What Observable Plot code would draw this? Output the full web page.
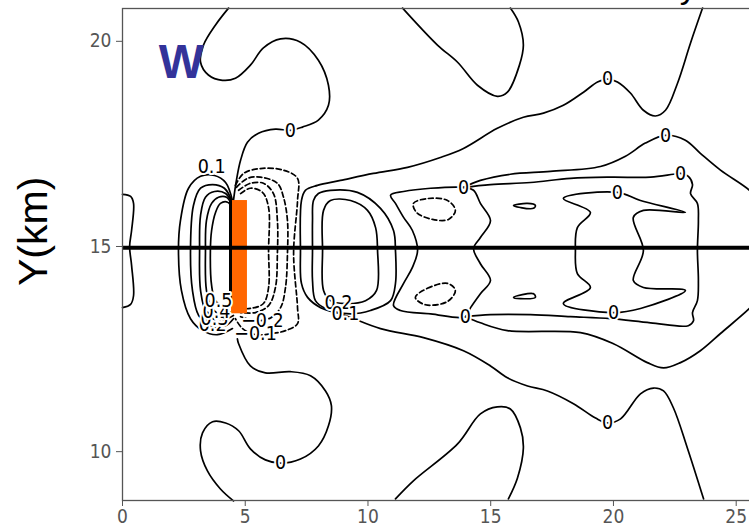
<!DOCTYPE html>
<html><head><meta charset="utf-8">
<script src="https://cdn.jsdelivr.net/npm/d3@7"></script>
<script src="https://cdn.jsdelivr.net/npm/@observablehq/plot@0.6"></script>
<style>html,body{margin:0;padding:0;overflow:hidden;background:#fff} svg{max-width:none !important;}</style>
</head><body><div id="chart"></div>
<script>
const xDomain = [0, 25.99];
const yDomain = [8.81, 20.8];
const xTicks = [0, 5, 10, 15, 20, 25];
const yTicks = [10, 15, 20];
const centerLineY = [14.97];
const barRect = [{x1: 4.44, x2: 5.09, y1: 13.36, y2: 16.12}];
const wallLine = [{x: 4.40, y1: 13.7, y2: 16.12}];

// ---- open contour paths (x km, y km) ----
const zeroTopLeft = [[4.32,20.81],[3.79,20.40],[3.30,19.91],[3.18,19.49],[3.50,19.18],[4.07,19.05],[4.60,19.10],[5.21,19.42],[5.74,19.84],[6.44,20.06],[7.25,19.98],[7.98,19.54],[8.39,18.93],[8.39,18.44],[7.98,18.08],[7.33,17.91],[6.84,17.83],[6.23,17.86],[5.54,17.76],[5.09,17.54],[4.81,17.10],[4.64,16.61],[4.52,16.12]];
const zeroBottomLeft = [[4.68,12.75],[4.73,12.63],[5.21,12.09],[5.82,11.92],[6.84,11.95],[7.66,11.85],[8.27,11.48],[8.51,11.12],[8.39,10.63],[7.98,10.14],[7.25,9.82],[6.44,9.72],[5.82,9.80],[5.21,10.07],[4.73,10.51],[4.20,10.70],[3.67,10.73],[3.26,10.46],[3.18,10.02],[3.46,9.53],[3.99,9.09],[4.52,8.80]];
const zeroTopMid = [[11.41,20.81],[12.83,19.91],[13.65,19.49],[14.46,18.93],[15.27,18.66],[15.68,18.76],[16.17,19.42],[16.33,19.91],[16.13,20.47],[15.80,20.81]];
const zeroBottomMid = [[11.12,8.85],[11.85,9.29],[13.65,10.19],[14.58,10.92],[15.27,11.09],[15.80,11.04],[16.21,10.58],[16.33,10.09],[16.09,9.36],[15.72,8.85]];
const zeroOuter = [[23.63,20.81],[23.14,19.96],[22.61,18.98],[22.12,18.32],[21.71,18.18],[21.22,18.32],[20.69,18.74],[20.16,19.01],[19.76,19.08],[19.35,19.01],[18.78,18.76],[17.96,18.44],[17.15,18.25],[16.33,18.15],[15.27,17.88],[13.89,17.39],[12.95,17.17],[11.61,16.93],[10.22,16.78],[8.88,16.61],[7.94,16.49],[7.45,16.37],[7.29,16.12],[7.25,14.90],[7.29,14.10],[7.54,13.76],[8.07,13.51],[9.08,13.32],[10.51,13.00],[12.26,12.78],[13.89,12.46],[14.99,12.09],[15.68,11.80],[16.50,11.60],[17.31,11.48],[18.37,11.17],[19.27,10.82],[19.76,10.70],[20.29,10.80],[21.10,11.41],[21.63,11.55],[22.04,11.48],[22.44,11.07],[23.01,10.09],[23.67,8.85]];
const zeroRightLoop = [[13.89,16.44],[14.99,16.51],[16.62,16.56],[18.25,16.66],[19.88,16.69],[21.51,16.69],[22.44,16.76],[22.73,16.78],[23.05,16.71],[23.22,16.51],[23.14,16.29],[23.42,16.05],[23.46,15.63],[23.42,14.90],[23.46,14.17],[23.42,13.68],[23.22,13.39],[23.26,13.19],[23.05,13.07],[21.51,13.14],[19.88,13.24],[18.25,13.29],[16.62,13.34],[14.99,13.34],[13.97,13.29]];
const zeroUpperRight = [[13.89,16.44],[14.58,16.61],[15.80,16.76],[17.43,16.83],[19.47,16.95],[20.49,17.20],[21.30,17.52],[22.12,17.71],[22.93,17.59],[23.54,17.27],[24.36,16.86],[25.54,16.37],[25.99,16.07]];
const zeroLowerRight = [[13.97,13.29],[14.58,13.14],[15.68,12.95],[18.66,12.90],[20.00,12.63],[21.38,12.17],[22.04,12.04],[22.73,12.17],[23.54,12.46],[24.36,12.88],[25.54,13.49],[25.99,13.78]];
const zeroLeftEdge = [[0,16.27],[0.33,16.22],[0.45,16.05],[0.37,15.39],[0.29,15.00],[0.37,14.54],[0.45,13.80],[0.33,13.59],[0,13.51]];
const pos01 = [[4.48,16.12],[4.20,16.56],[3.75,16.73],[3.18,16.71],[2.69,16.42],[2.36,15.63],[2.28,14.90],[2.40,13.93],[2.77,13.24],[3.26,12.95],[3.87,12.85],[4.48,13.00]];
const pos02 = [[4.48,16.08],[4.15,16.42],[3.67,16.51],[3.18,16.42],[2.89,16.00],[2.77,14.90],[2.85,13.93],[3.10,13.32],[3.58,13.05],[4.20,13.07],[4.52,13.24]];
const pos03 = [[4.48,16.03],[4.20,16.29],[3.75,16.34],[3.38,16.20],[3.18,15.76],[3.14,14.90],[3.18,13.93],[3.42,13.39],[3.91,13.19],[4.52,13.32]];
const pos04 = [[4.48,15.98],[4.24,16.20],[3.91,16.20],[3.63,16.05],[3.42,15.63],[3.38,14.90],[3.42,13.93],[3.63,13.51],[4.07,13.34],[4.52,13.44]];
const pos05 = [[4.48,15.93],[4.28,16.08],[3.99,16.05],[3.79,15.83],[3.63,15.39],[3.58,14.90],[3.63,14.05],[3.79,13.68],[4.15,13.53],[4.52,13.58]];
const neg01 = [[4.60,16.49],[4.93,16.78],[5.62,16.90],[6.56,16.86],[7.13,16.66],[7.13,16.12],[6.97,14.83],[7.13,13.51],[7.13,13.12],[6.64,12.95],[6.11,12.88],[5.42,12.85],[4.89,13.00],[4.60,13.24]];
const neg02 = [[4.64,16.44],[5.09,16.66],[5.62,16.69],[6.31,16.54],[6.56,16.20],[6.72,15.63],[6.72,14.83],[6.64,14.00],[6.44,13.51],[6.03,13.26],[5.42,13.19],[4.81,13.29]];
const neg03 = [[4.73,16.37],[5.21,16.54],[5.74,16.54],[6.15,16.29],[6.31,15.63],[6.31,14.83],[6.23,14.00],[5.95,13.56],[5.42,13.39],[4.81,13.39]];
const neg04 = [[4.81,16.29],[5.21,16.42],[5.70,16.32],[5.95,15.95],[5.95,14.90],[5.95,14.00],[5.74,13.61],[5.21,13.49],[4.81,13.49]];

// ---- closed contour loops ----
const loop01 = [[7.78,16.12],[7.98,16.29],[8.47,16.37],[9.57,16.32],[10.51,15.93],[11.04,15.39],[11.12,14.90],[11.12,14.10],[10.92,13.68],[10.10,13.44],[9.29,13.36],[8.27,13.49],[7.86,13.68],[7.74,14.17],[7.74,14.90],[7.74,15.63]];
const loop02 = [[8.19,15.88],[8.47,16.12],[9.29,16.12],[9.98,15.88],[10.31,15.46],[10.39,14.90],[10.35,13.93],[9.90,13.68],[9.08,13.61],[8.47,13.68],[8.19,13.93],[8.15,14.90]];
const loopZeroMid = [[10.92,16.25],[11.45,16.34],[12.55,16.42],[13.89,16.44],[14.30,16.37],[14.58,16.05],[14.99,15.63],[14.58,15.22],[14.30,14.95],[14.58,14.58],[14.99,14.17],[14.58,13.85],[14.18,13.51],[13.97,13.29],[12.55,13.36],[11.32,13.44],[11.04,13.56],[11.45,14.10],[11.81,14.49],[12.02,14.90],[11.81,15.39],[11.45,15.71],[11.12,16.05]];
const loopZeroInner = [[17.96,16.17],[19.06,15.83],[18.53,15.46],[18.45,14.90],[18.53,14.34],[19.06,14.00],[17.96,13.61],[20.00,13.39],[21.10,13.49],[22.93,13.93],[21.22,14.00],[20.81,14.17],[21.22,14.90],[20.81,15.71],[21.22,15.88],[22.93,15.83],[21.10,16.12],[20.16,16.32]];
const sliverTop = [[15.93,16.00],[16.50,16.05],[16.82,16.00],[16.74,15.93],[16.21,15.95]];
const sliverBottom = [[15.93,13.76],[16.74,13.85],[16.82,13.76],[16.21,13.73]];
const negEllipseTop = [[11.85,16.05],[12.46,16.17],[13.24,16.12],[13.56,15.88],[13.28,15.66],[12.63,15.66],[11.98,15.83]];
const negEllipseBottom = [[11.93,13.76],[12.42,13.98],[13.24,14.10],[13.56,13.93],[13.24,13.66],[12.34,13.58]];

// ---- contour labels ----
const labelText = ["0","0","0","0","0","0","0","0","0","0","0.1","0.2","0.3","0.4","0.5","−0.2","−0.1","0.2","0.1"];
const labelX = [6.84,6.44,19.76,19.76,22.12,22.73,13.89,13.97,20.16,20.00,3.63,3.67,3.75,3.83,3.91,5.70,5.42,8.80,9.08];
const labelY = [17.83,9.72,19.08,10.70,17.71,16.78,16.44,13.29,16.32,13.39,16.95,13.10,13.24,13.41,13.68,13.19,12.88,13.63,13.36];

const toRows = (paths) => paths.flatMap((p, id) => p.map(([x, y]) => ({id, x, y})));
const solidOpen = toRows([zeroTopLeft, zeroBottomLeft, zeroTopMid, zeroBottomMid, zeroOuter, zeroRightLoop, zeroUpperRight, zeroLowerRight, zeroLeftEdge, pos01, pos02, pos03, pos04, pos05]);
const dashedOpen = toRows([neg01, neg02, neg03, neg04]);
const solidClosed = toRows([loop01, loop02, loopZeroMid, loopZeroInner, sliverTop, sliverBottom]);
const dashedClosed = toRows([negEllipseTop, negEllipseBottom]);
const labels = labelText.map((t, i) => ({t, x: labelX[i], y: labelY[i]}));

const narrow = "'Liberation Sans Narrow','DejaVu Sans Condensed','Roboto Condensed',sans-serif";
const lw = 1.7;

const chart = Plot.plot({
  width: 760, height: 527,
  marginLeft: 122, marginRight: 0, marginTop: 8, marginBottom: 27,
  style: {fontFamily: narrow, fontSize: "19px", color: "#555", background: "#fff", maxWidth: "none"},
  x: {domain: xDomain, ticks: xTicks, tickSize: 6, tickPadding: 3, label: null},
  y: {domain: yDomain, ticks: yTicks, tickSize: 6, tickPadding: 5, label: null},
  marks: [
    Plot.line(solidOpen, {x: "x", y: "y", z: "id", curve: "catmull-rom", stroke: "black", strokeWidth: lw}),
    Plot.line(dashedOpen, {x: "x", y: "y", z: "id", curve: "catmull-rom", stroke: "black", strokeWidth: lw, strokeDasharray: "5,3"}),
    Plot.line(solidClosed, {x: "x", y: "y", z: "id", curve: "catmull-rom-closed", stroke: "black", strokeWidth: lw}),
    Plot.line(dashedClosed, {x: "x", y: "y", z: "id", curve: "catmull-rom-closed", stroke: "black", strokeWidth: lw, strokeDasharray: "5,3"}),
    Plot.rect(barRect, {x1: "x1", x2: "x2", y1: "y1", y2: "y2", fill: "#ff6600"}),
    Plot.ruleX(wallLine, {x: "x", y1: "y1", y2: "y2", stroke: "black", strokeWidth: 3}),
    Plot.ruleY(centerLineY, {stroke: "black", strokeWidth: 4}),
    Plot.text(labels, {x: "x", y: "y", text: "t", fontSize: 19.5, fontFamily: narrow, fill: "black", stroke: "white", strokeWidth: 4, paintOrder: "stroke"}),
    Plot.text(["W"], {x: [2.40], y: [19.49], text: d => d, fontSize: 48, fontWeight: "bold", fontFamily: "'Liberation Sans',Arial,sans-serif", fill: "#33339a"}),
    Plot.text(["Y(km)"], {x: [-3.6], y: [15.37], text: d => d, rotate: -90, fontSize: 41, fontFamily: "'Liberation Sans',Arial,sans-serif", fill: "black"}),
    Plot.text(["y"], {x: [23.05], y: [21.33], text: d => d, fontSize: 34, fontFamily: "'Liberation Sans',Arial,sans-serif", fill: "black"}),
    Plot.frame({stroke: "#555", strokeWidth: 1.3})
  ]
});
document.getElementById("chart").appendChild(chart);
</script>
</body></html>
